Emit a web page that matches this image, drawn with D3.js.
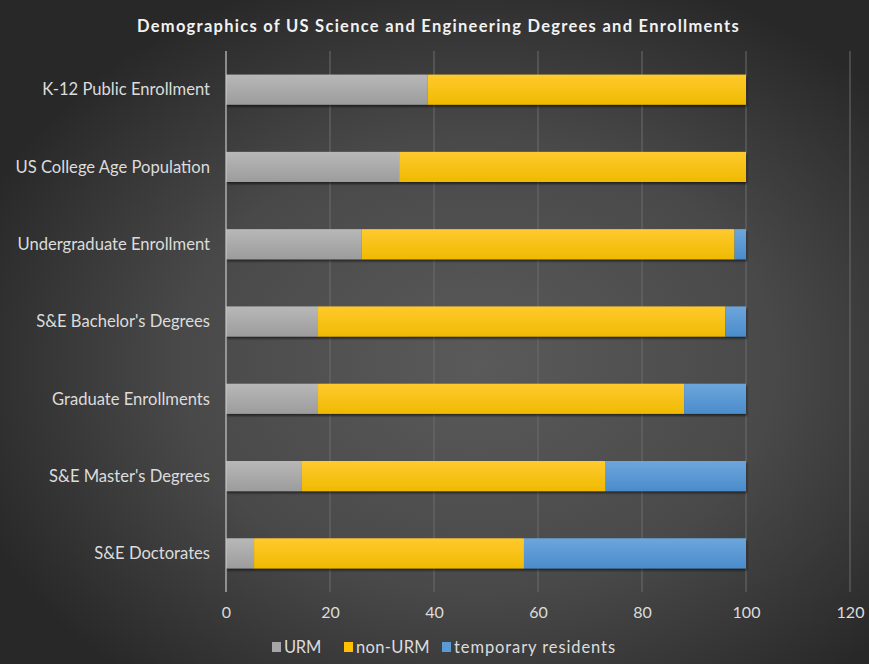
<!DOCTYPE html>
<html>
<head>
<meta charset="utf-8">
<script src="https://cdn.jsdelivr.net/npm/d3@7/dist/d3.min.js"></script>
<style>
  html, body { margin: 0; padding: 0; background: #2b2b2b; }
  svg { display: block; }
</style>
</head>
<body>
<div id="chart"></div>
<script>
// Share of each population group, percent
const categories = [
  "K-12 Public Enrollment",
  "US College Age Population",
  "Undergraduate Enrollment",
  "S&E Bachelor's Degrees",
  "Graduate Enrollments",
  "S&E Master's Degrees",
  "S&E Doctorates"
];
const urm      = [38.8, 33.3, 26.1, 17.7, 17.7, 14.6, 5.4];
const nonUrm   = [61.2, 66.7, 71.7, 78.3, 70.4, 58.4, 51.9];
const tempRes  = [0,    0,    2.2,  4.0, 11.9, 27.0, 42.7];
const seriesNames = ["URM", "non-URM", "temporary residents"];
const xTicks = [0, 20, 40, 60, 80, 100, 120];
const title = "Demographics of US Science and Engineering Degrees and Enrollments";

const W = 869, H = 664;
const margin = { top: 51, right: 19, bottom: 72, left: 226 };
const FONT = "Lato, 'Open Sans', sans-serif";

const svg = d3.select("#chart").append("svg")
  .attr("width", W).attr("height", H)
  .attr("font-family", FONT);

const defs = svg.append("defs");

// Spread a text's letters so it spans the given width
function spread(sel, width) {
  sel.each(function () {
    const n = this.textContent.length;
    const len = this.getComputedTextLength();
    d3.select(this).attr("letter-spacing", ((width - len) / n).toFixed(3));
  });
}

// Dark vignette background
const bg = defs.append("radialGradient").attr("id", "bg")
  .attr("cx", "55%").attr("cy", "55%").attr("r", "62%");
bg.append("stop").attr("offset", "0%").attr("stop-color", "#5a5a5a");
bg.append("stop").attr("offset", "55%").attr("stop-color", "#494949");
bg.append("stop").attr("offset", "100%").attr("stop-color", "#282828");
svg.append("rect").attr("width", W).attr("height", H).attr("fill", "url(#bg)");

// Soft shading on the bars
const palette = [
  { id: "gURM", top: "#b8b8b8", bottom: "#9c9c9c", key: "#a6a6a6" },
  { id: "gNon", top: "#ffca2e", bottom: "#efba00", key: "#ffc000" },
  { id: "gTmp", top: "#6da6dc", bottom: "#4a8ccb", key: "#5b9bd5" }
];
palette.forEach(p => {
  const g = defs.append("linearGradient").attr("id", p.id)
    .attr("x1", 0).attr("y1", 0).attr("x2", 0).attr("y2", 1);
  g.append("stop").attr("offset", "0%").attr("stop-color", p.top);
  g.append("stop").attr("offset", "100%").attr("stop-color", p.bottom);
});
const shadow = defs.append("filter").attr("id", "shadow")
  .attr("x", "-5%").attr("y", "-20%").attr("width", "110%").attr("height", "160%");
shadow.append("feDropShadow").attr("dx", 1).attr("dy", 2).attr("stdDeviation", 1.2)
  .attr("flood-color", "#000").attr("flood-opacity", 0.55);

const x = d3.scaleLinear().domain([0, 120]).range([margin.left, W - margin.right]);
const y = d3.scaleBand().domain(categories)
  .range([margin.top, H - margin.bottom]).paddingInner(0.61).paddingOuter(0.305);

// Title
svg.append("text")
  .attr("x", 438.5).attr("y", 32)
  .attr("text-anchor", "middle")
  .attr("fill", "#f2f2f2")
  .attr("font-weight", "bold")
  .attr("font-size", 16.5)
  .text(title)
  .call(spread, 603);

// Vertical gridlines
svg.append("g").selectAll("line").data(xTicks.slice(1)).join("line")
  .attr("x1", d => x(d)).attr("x2", d => x(d))
  .attr("y1", margin.top).attr("y2", H - margin.bottom)
  .attr("stroke", "#6c6c6c").attr("stroke-width", 1);

// Stacked bars
const rows = categories.map((c, i) => ({ cat: c, "URM": urm[i], "non-URM": nonUrm[i], "temporary residents": tempRes[i] }));
const stacked = d3.stack().keys(seriesNames)(rows);

const barsG = svg.append("g").attr("filter", "url(#shadow)");
stacked.forEach((layer, li) => {
  barsG.append("g").selectAll("rect").data(layer).join("rect")
    .attr("x", d => x(d[0]))
    .attr("y", d => y(d.data.cat))
    .attr("width", d => Math.max(0, x(d[1]) - x(d[0])))
    .attr("height", y.bandwidth())
    .attr("fill", `url(#${palette[li].id})`);
});

// Axis line at zero
svg.append("line")
  .attr("x1", x(0)).attr("x2", x(0))
  .attr("y1", margin.top).attr("y2", H - margin.bottom)
  .attr("stroke", "#c8c8c8").attr("stroke-width", 1.2);

// Category labels
svg.append("g").selectAll("text").data(categories).join("text")
  .attr("x", x(0) - 16)
  .attr("y", d => y(d) + y.bandwidth() / 2)
  .attr("dy", "0.35em")
  .attr("text-anchor", "end")
  .attr("fill", "#dcdcdc")
  .attr("font-size", 16.6)
  .text(d => d);

// X axis tick labels
const xAxis = d3.axisBottom(x).tickValues(xTicks).tickSize(0).tickPadding(13);
const xg = svg.append("g")
  .attr("transform", `translate(0,${H - margin.bottom + 2})`)
  .call(xAxis);
xg.select(".domain").remove();
xg.selectAll("text")
  .attr("fill", "#dcdcdc")
  .attr("font-size", 16)
  .attr("font-family", FONT);

// Legend
const legendX = [272, 344, 442];
const legendW = [37, 74, 162];
const legend = svg.append("g");
seriesNames.forEach((name, i) => {
  const g = legend.append("g").attr("transform", `translate(${legendX[i]},647)`);
  g.append("rect").attr("x", 0).attr("y", -5).attr("width", 9).attr("height", 10)
    .attr("fill", palette[i].key);
  g.append("text").attr("x", 12).attr("y", 0).attr("dy", "0.35em")
    .attr("fill", "#dcdcdc").attr("font-size", 16.5).text(name)
    .call(spread, legendW[i]);
});
</script>
</body>
</html>
